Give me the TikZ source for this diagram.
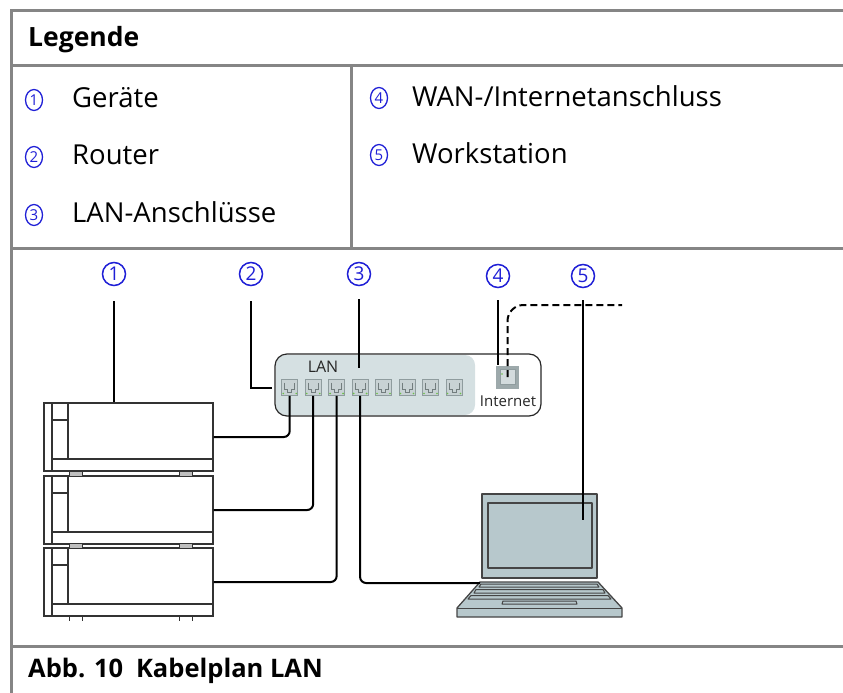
\documentclass[tikz,border=0pt]{standalone}
\usepackage{fontspec}
\setmainfont{Open Sans}
\usetikzlibrary{shapes.geometric}
\definecolor{rule}{HTML}{858585}
\definecolor{numblue}{HTML}{1F1FD6}
\definecolor{lanfill}{HTML}{D5E0E2}
\definecolor{devline}{HTML}{333333}
\definecolor{lapfill}{HTML}{B7C8CC}
\definecolor{lapline}{HTML}{454545}
\definecolor{portfill}{HTML}{C8D2D4}
\definecolor{portline}{HTML}{8F9C9E}
\definecolor{wanfill}{HTML}{9DA9AB}
\definecolor{portgreen}{HTML}{6CC04A}
\begin{document}
\begin{tikzpicture}[x=1pt,y=-1pt,
  tablerule/.style={draw=rule,line width=3pt},
  legtext/.style={anchor=base west,inner sep=0pt,font=\fontsize{27.5}{30}\selectfont},
  headtext/.style={anchor=base west,inner sep=0pt,font=\bfseries\fontsize{25.5}{28}\selectfont},
  legnum/.style={ellipse,draw=numblue,text=numblue,line width=1.3pt,minimum width=17pt,minimum height=21pt,inner sep=0pt,font=\fontsize{15}{15}\selectfont},
  callout/.style={circle,draw=numblue,text=numblue,line width=1.5pt,minimum size=23pt,inner sep=0pt,font=\fontsize{19}{19}\selectfont},
  leader/.style={draw=black,line width=2pt},
  cable/.style={draw=black,line width=2pt,rounded corners=6pt},
  device/.style={rectangle,draw=devline,line width=1.2pt,fill=white,minimum width=169pt,minimum height=68pt,inner sep=0pt},
  port/.style={rectangle,draw=portline,fill=portfill,line width=0.6pt,minimum size=16pt,inner sep=0pt},
  routertext/.style={inner sep=0pt,anchor=base,font=\fontsize{15}{18}\selectfont,text=black!85},
  laptop/.style={draw=lapline,fill=lapfill,line width=1.3pt,line join=round}
]
\useasboundingbox (0,0) rectangle (843,693);

% table frame
\draw[tablerule] (11,11) -- (843,11);
\draw[tablerule] (11,9.5) -- (11,693);
\draw[tablerule] (11,66) -- (843,66);
\draw[tablerule] (351,66) -- (351,248);
\draw[tablerule] (11,248) -- (843,248);
\draw[tablerule] (11,646) -- (843,646);

% legend
\node[headtext,font=\bfseries\fontsize{26.5}{28}\selectfont] (legtitle) at (28,47) {Legende};
\node[legnum] (l1) at (34,100) {1};
\node[legtext] (t1) at (72,107) {Geräte};
\node[legnum] (l2) at (34,157) {2};
\node[legtext] (t2) at (72,164) {Router};
\node[legnum] (l3) at (34,215) {3};
\node[legtext] (t3) at (72,222) {LAN-Anschlüsse};
\node[legnum] (l4) at (379,98) {4};
\node[legtext] (t4) at (412,106) {WAN-/Internetanschluss};
\node[legnum] (l5) at (379,155) {5};
\node[legtext] (t5) at (412,163) {Workstation};

% caption
\node[headtext] (caption) at (28,677) {Abb. 10\enspace Kabelplan LAN};

% devices
\foreach \i/\t in {1/403,2/476,3/548}{
  \node[device] (dev\i) at (128.5,\t+34) {};
  \draw[devline,line width=1.2pt] (52,\t) -- (52,\t+68)
     (68,\t) -- (68,\t+56) (52,\t+56) -- (213,\t+56)
     (52,\t+17) -- (68,\t+17);
}
\foreach \t in {471,543}{
  \draw[devline,fill=black!25,line width=0.8pt] (69,\t) rectangle (82,\t+5) (179,\t) rectangle (192,\t+5);
}
\draw[devline,line width=0.8pt] (69,616) -- (69,621) (82,616) -- (82,621) (179,616) -- (179,621) (192,616) -- (192,621);

% router
\fill[lanfill,rounded corners=10pt] (276,355) rectangle (475,415);
\node[rectangle,draw=black!85,line width=1.2pt,rounded corners=12pt,minimum width=266pt,minimum height=62pt,inner sep=0pt] (router) at (408,385) {};
\node[routertext,font=\fontsize{16}{18}\selectfont] (lantext) at (323,372) {LAN};
\node[routertext] (inettext) at (508,406) {Internet};
\foreach \i in {1,...,8}{
  \node[port] (p\i) at ({289.7+23.47*(\i-1)},387.5) {};
  \draw[portline!80!black,line width=0.6pt] ([shift={(-5,-5)}]p\i.center) -- ++(0,7) -- ++(3,0) -- ++(0,3) -- ++(4,0) -- ++(0,-3) -- ++(3,0) -- ++(0,-7);
  \fill[portgreen] ([shift={(-6.5,6)}]p\i.center) circle (0.9pt) ([shift={(6.5,6)}]p\i.center) circle (0.9pt);
}
\node[rectangle,fill=wanfill,minimum size=23pt,inner sep=0pt] (wan) at (507.5,377) {};
\node[port,minimum size=15pt,fill=portfill!80!white] (wanjack) at (507.5,377) {};
\fill[portgreen] ([shift={(-5.5,-3)}]wanjack.center) circle (0.9pt);

% workstation
\coordinate (lapjack) at (480,583);
\draw[laptop] (482,494) rectangle (597,578);
\draw[laptop] (488,503) rectangle (592,568);
\draw[laptop] (480,582) -- (598,582) -- (622,608) -- (622,617) -- (457,617) -- (457,608) -- cycle;
\draw[laptop,line width=1pt] (457,608) -- (622,608);
\draw[laptop,line width=1pt] (481,584) -- (597,584) -- (599,587) -- (479,587) -- cycle;
\draw[laptop,line width=1pt] (476,589.5) -- (603,589.5) -- (605,593) -- (474,593) -- cycle;
\draw[laptop,line width=1pt] (471,595.5) -- (608,595.5) -- (611,599) -- (468,599) -- cycle;
\draw[laptop,line width=1pt] (503,601) -- (576,601) -- (577,604) -- (502,604) -- cycle;
\coordinate (screen) at (583,520);

% cables
\draw[cable] (dev1.east) -| (p1.south);
\draw[cable] (dev2.east) -| (p2.south);
\draw[cable] (dev3.east) -| (p3.south);
\draw[cable] (p4.south) |- (lapjack);
\draw[line width=2pt,dash pattern=on 7pt off 4pt,rounded corners=16pt] (wanjack.center) -- (507.5,305) -- (622,305);

% callouts
\node[callout] (n1) at (114,274) {1};
\node[callout] (n2) at (251,274) {2};
\node[callout] (n3) at (359,274) {3};
\node[callout] (n4) at (498,276) {4};
\node[callout] (n5) at (583,276) {5};
\coordinate (r2) at (272,388);
\coordinate (r3) at (360,368);
\draw[leader] ([yshift=-27pt]n1.center) -- (n1 |- dev1.north);
\draw[leader] ([yshift=-27pt]n2.center) |- (r2);
\draw[leader] ([yshift=-25pt]n3.center) -- (n3 |- r3);
\draw[leader] ([yshift=-24pt]n4.center) -- (n4 |- wan.north);
\draw[leader] ([yshift=-24pt]n5.center) -- (screen);
\end{tikzpicture}
\end{document}
